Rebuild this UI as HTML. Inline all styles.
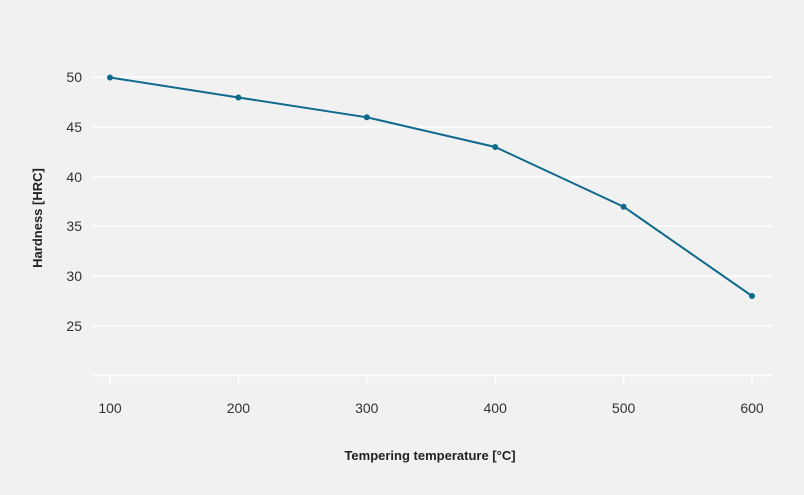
<!DOCTYPE html>
<html><head><meta charset="utf-8"><style>
html,body{margin:0;padding:0;background:#f0f1f0;}
svg{display:block;font-family:"Liberation Sans","DejaVu Sans",sans-serif;}
</style></head><body>
<svg width="804" height="495" viewBox="0 0 804 495">
<rect width="804" height="495" fill="#f0f1f0"/>
<g stroke="#ffffff" stroke-width="1.5">
<line x1="93" x2="772" y1="77" y2="77"/>
<line x1="93" x2="772" y1="127" y2="127"/>
<line x1="93" x2="772" y1="177" y2="177"/>
<line x1="93" x2="772" y1="226" y2="226"/>
<line x1="93" x2="772" y1="276" y2="276"/>
<line x1="93" x2="772" y1="326" y2="326"/>
<line x1="93" x2="772" y1="375.5" y2="375.5"/>
<line x1="110" x2="110" y1="375" y2="384"/>
<line x1="238.4" x2="238.4" y1="375" y2="384"/>
<line x1="366.8" x2="366.8" y1="375" y2="384"/>
<line x1="495.2" x2="495.2" y1="375" y2="384"/>
<line x1="623.6" x2="623.6" y1="375" y2="384"/>
<line x1="752" x2="752" y1="375" y2="384"/>
</g>
<g font-size="14" fill="#333" text-anchor="end">
<text x="82" y="82">50</text>
<text x="82" y="132">45</text>
<text x="82" y="182">40</text>
<text x="82" y="231">35</text>
<text x="82" y="281">30</text>
<text x="82" y="331">25</text>
</g>
<g font-size="14" fill="#333" text-anchor="middle">
<text x="110" y="413">100</text>
<text x="238.4" y="413">200</text>
<text x="366.8" y="413">300</text>
<text x="495.2" y="413">400</text>
<text x="623.6" y="413">500</text>
<text x="752" y="413">600</text>
</g>
<text x="430" y="460" font-size="13" font-weight="bold" fill="#222" text-anchor="middle">Tempering temperature [°C]</text>
<text transform="translate(42,218) rotate(-90)" font-size="13" font-weight="bold" fill="#222" text-anchor="middle">Hardness [HRC]</text>
<polyline fill="none" stroke="#0f6a8c" stroke-width="2" points="110,77.5 238.4,97.5 366.8,117.3 495.2,147 623.6,206.7 752,296"/>
<g fill="#0f6a8c">
<circle cx="110" cy="77.5" r="3"/>
<circle cx="238.4" cy="97.5" r="3"/>
<circle cx="366.8" cy="117.3" r="3"/>
<circle cx="495.2" cy="147" r="3"/>
<circle cx="623.6" cy="206.7" r="3"/>
<circle cx="752" cy="296" r="3"/>
</g>
</svg>
</body></html>
